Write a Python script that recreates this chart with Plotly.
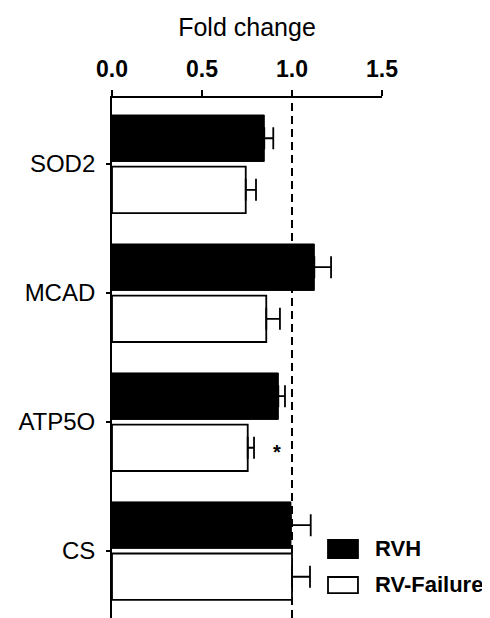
import plotly.graph_objects as go

categories = ["SOD2", "MCAD", "ATP5O", "CS"]
rvh_values = [0.846, 1.124, 0.924, 0.994]
rvh_errors = [0.050, 0.093, 0.037, 0.110]
rvf_values = [0.743, 0.857, 0.754, 1.000]
rvf_errors = [0.057, 0.076, 0.035, 0.100]
x_ticks = [0.0, 0.5, 1.0, 1.5]
x_tick_labels = ["0.0", "0.5", "1.0", "1.5"]
series_names = ["RVH", "RV-Failure"]

FONT = "Liberation Sans, Arial, sans-serif"

fig = go.Figure()
fig.add_trace(go.Bar(
    y=categories, x=rvh_values, orientation="h", name=series_names[0],
    marker=dict(color="black", line=dict(color="black", width=1)),
    error_x=dict(type="data", array=rvh_errors, arrayminus=[0]*len(rvh_errors),
                 symmetric=False, color="black", thickness=1.8, width=11),
    showlegend=False,
))
fig.add_trace(go.Bar(
    y=categories, x=rvf_values, orientation="h", name=series_names[1],
    marker=dict(color="white", line=dict(color="black", width=1.8)),
    error_x=dict(type="data", array=rvf_errors, arrayminus=[0]*len(rvf_errors),
                 symmetric=False, color="black", thickness=1.8, width=11),
    showlegend=False,
))

# reference line at fold change = 1
fig.add_shape(type="line", xref="x", yref="y domain", x0=1, x1=1, y0=0, y1=1,
              line=dict(color="black", width=2, dash="8px,5px"), layer="below")

# significance marker
fig.add_annotation(x=0.915, y=2.2, xref="x", yref="y", text="*", showarrow=False,
                   font=dict(family=FONT, size=20, color="black", weight="bold"),
                   yshift=-4)

# manual legend (paper coords of the 270x520 plot area)
legend_items = [
    (series_names[0], "black", 0.1154, 0.150, 0.1327),
    (series_names[1], "white", 0.048, 0.0788, 0.0635),
]
for name, fill, y0, y1, yc in legend_items:
    fig.add_shape(type="rect", xref="paper", yref="paper", x0=0.80, x1=0.911,
                  y0=y0, y1=y1, fillcolor=fill, line=dict(color="black", width=1.8))
    fig.add_annotation(xref="paper", yref="paper", x=0.968, y=yc, text=name,
                       showarrow=False, xanchor="left", yanchor="middle",
                       font=dict(family=FONT, size=22, color="black", weight="bold"))

# page body has an 8px default margin, so the figure is 8px smaller
fig.update_layout(
    width=482, height=610,
    margin=dict(l=104, r=108, t=90, b=0, autoexpand=False),
    paper_bgcolor="white", plot_bgcolor="white",
    barmode="group", bargap=0.2, bargroupgap=0.1,
    font=dict(family=FONT, color="black"),
    xaxis=dict(
        side="top", range=[0, 1.5], tickvals=x_ticks, ticktext=x_tick_labels,
        ticks="outside", ticklen=6, tickwidth=1.8, tickcolor="black",
        showline=True, linewidth=1.8, linecolor="black",
        showgrid=False, zeroline=False, automargin=False,
        tickfont=dict(family=FONT, size=23, color="black", weight="bold"),
        ticklabelstandoff=4,
        title=dict(text="Fold change", font=dict(family=FONT, size=25, color="black"),
                   standoff=12),
    ),
    yaxis=dict(
        range=[3.52, -0.512], type="category",
        ticks="outside", ticklen=4, tickwidth=1.8, tickcolor="black",
        showline=True, linewidth=1.8, linecolor="black",
        showgrid=False, zeroline=False, automargin=False,
        tickfont=dict(family=FONT, size=24, color="black"),
        ticklabelstandoff=6,
    ),
)

fig.write_html("out.html")
